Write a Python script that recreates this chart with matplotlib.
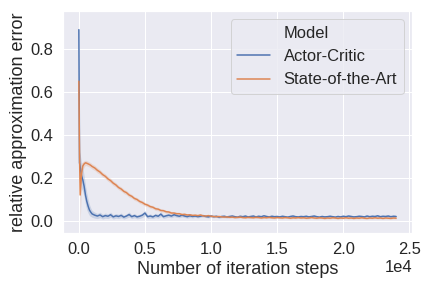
import matplotlib
matplotlib.use("Agg")
import matplotlib.pyplot as plt
import seaborn as sns
import numpy as np
from matplotlib.lines import Line2D

sns.set_theme(style="darkgrid", font_scale=1.5)
plt.rcParams['font.family'] = ['Liberation Sans', 'DejaVu Sans']

steps = [0, 50, 100, 150, 200, 300, 400, 500, 600, 700, 800, 900] + list(range(1000, 24001, 200))

ac_mean = [0.89, 0.27, 0.25, 0.23, 0.21, 0.19, 0.16, 0.12, 0.09, 0.068, 0.05, 0.04,
           0.032, 0.026, 0.022, 0.027, 0.019, 0.024, 0.021, 0.028, 0.018, 0.023,
           0.020, 0.025, 0.017, 0.022, 0.029, 0.019, 0.024, 0.018, 0.021, 0.026,
           0.036, 0.019, 0.022, 0.018, 0.025, 0.021, 0.031, 0.019, 0.023, 0.026,
           0.022, 0.028, 0.024, 0.021, 0.026, 0.022, 0.019, 0.023, 0.020, 0.022,
           0.019, 0.021, 0.024, 0.020, 0.018, 0.022, 0.019, 0.021, 0.017, 0.020,
           0.021, 0.018, 0.020, 0.022, 0.019, 0.017, 0.021, 0.019, 0.022, 0.018,
           0.020, 0.022, 0.018, 0.021, 0.019, 0.023, 0.020, 0.018, 0.021, 0.019,
           0.020, 0.018, 0.021, 0.019, 0.017, 0.020, 0.022, 0.019, 0.018, 0.020,
           0.019, 0.021, 0.018, 0.020, 0.022, 0.019, 0.017, 0.020, 0.018, 0.019,
           0.021, 0.019, 0.017, 0.020, 0.018, 0.021, 0.019, 0.022, 0.020, 0.018,
           0.019, 0.021, 0.020, 0.018, 0.022, 0.019, 0.021, 0.020, 0.023, 0.019,
           0.021, 0.020, 0.022, 0.019, 0.021, 0.020]

ac_ci = [0.04, 0.05, 0.06, 0.06, 0.06, 0.055, 0.05, 0.045, 0.04, 0.032, 0.026, 0.02,
         0.016, 0.014, 0.012, 0.013, 0.011, 0.012, 0.011, 0.012, 0.010, 0.011,
         0.010, 0.011, 0.009, 0.010, 0.012, 0.009, 0.010, 0.009, 0.010, 0.011,
         0.012, 0.009, 0.010, 0.008, 0.010, 0.009, 0.011, 0.008, 0.009, 0.009,
         0.008, 0.009, 0.008, 0.007, 0.008, 0.007, 0.007, 0.008, 0.007, 0.006,
         0.006, 0.005, 0.006, 0.005, 0.005, 0.006, 0.005, 0.005, 0.006, 0.005,
         0.005, 0.005, 0.004, 0.005, 0.005, 0.004, 0.005, 0.005, 0.004, 0.005,
         0.005, 0.004, 0.005, 0.005, 0.004, 0.005, 0.004, 0.005, 0.005, 0.004,
         0.005, 0.005, 0.004, 0.005, 0.004, 0.005, 0.005, 0.004, 0.005, 0.005,
         0.004, 0.005, 0.005, 0.004, 0.005, 0.004, 0.005, 0.005, 0.004, 0.005,
         0.005, 0.004, 0.005, 0.005, 0.004, 0.005, 0.004, 0.005, 0.005, 0.004,
         0.005, 0.005, 0.004, 0.005, 0.004, 0.005, 0.005, 0.004, 0.005, 0.005,
         0.004, 0.005, 0.005, 0.004, 0.005, 0.004]

sota_mean = [0.65, 0.30, 0.12, 0.17, 0.22, 0.255, 0.265, 0.27, 0.268, 0.265, 0.262, 0.258,
             0.253, 0.246, 0.235, 0.227, 0.215, 0.207, 0.195, 0.187, 0.175, 0.167,
             0.155, 0.148, 0.137, 0.131, 0.120, 0.114, 0.104, 0.099, 0.090, 0.085,
             0.077, 0.073, 0.066, 0.063, 0.056, 0.054, 0.048, 0.047, 0.042, 0.041,
             0.036, 0.036, 0.033, 0.033, 0.029, 0.030, 0.027, 0.028, 0.025, 0.026,
             0.024, 0.027, 0.023, 0.022, 0.024, 0.021, 0.020, 0.019, 0.020, 0.018,
             0.017, 0.018, 0.016, 0.017, 0.015, 0.016, 0.017, 0.015, 0.014, 0.016,
             0.015, 0.014, 0.016, 0.015, 0.013, 0.015, 0.014, 0.016, 0.014, 0.013,
             0.015, 0.014, 0.013, 0.015, 0.014, 0.012, 0.014, 0.013, 0.015, 0.013,
             0.014, 0.012, 0.013, 0.015, 0.013, 0.012, 0.014, 0.013, 0.011, 0.013,
             0.012, 0.014, 0.013, 0.011, 0.013, 0.012, 0.014, 0.012, 0.013, 0.011,
             0.013, 0.012, 0.014, 0.012, 0.011, 0.013, 0.012, 0.014, 0.012, 0.013,
             0.011, 0.013, 0.012, 0.011, 0.013, 0.012]

sota_ci = [0.03, 0.09, 0.13, 0.09, 0.05, 0.02, 0.015, 0.012, 0.012, 0.012, 0.012, 0.012,
           0.012, 0.012, 0.012, 0.011, 0.011, 0.011, 0.011, 0.011, 0.011, 0.010,
           0.010, 0.010, 0.010, 0.010, 0.010, 0.009, 0.009, 0.009, 0.009, 0.009,
           0.009, 0.008, 0.008, 0.008, 0.008, 0.008, 0.007, 0.007, 0.007, 0.007,
           0.007, 0.006, 0.006, 0.006, 0.006, 0.006, 0.006, 0.005, 0.005, 0.005,
           0.005, 0.005, 0.005, 0.005, 0.005, 0.005, 0.004, 0.004, 0.004, 0.004,
           0.004, 0.004, 0.004, 0.004, 0.004, 0.004, 0.004, 0.004, 0.004, 0.004,
           0.004, 0.004, 0.004, 0.004, 0.004, 0.004, 0.004, 0.004, 0.004, 0.004,
           0.004, 0.004, 0.004, 0.004, 0.004, 0.004, 0.004, 0.004, 0.004, 0.004,
           0.004, 0.004, 0.004, 0.004, 0.004, 0.004, 0.004, 0.004, 0.004, 0.004,
           0.004, 0.004, 0.004, 0.004, 0.004, 0.004, 0.004, 0.004, 0.004, 0.004,
           0.004, 0.004, 0.004, 0.004, 0.004, 0.004, 0.004, 0.004, 0.004, 0.004,
           0.004, 0.004, 0.004, 0.004, 0.004, 0.004]

models = ["Actor-Critic", "State-of-the-Art"]
colors = ["#4C72B0", "#DD8452"]

fig = plt.figure(figsize=(6, 4), dpi=72)
ax = fig.add_axes([63/432, 1 - 233/288, (412-63)/432, (233-11)/288])

x = np.array(steps)
for name, m, c, col in [(models[0], ac_mean, ac_ci, colors[0]),
                        (models[1], sota_mean, sota_ci, colors[1])]:
    m = np.array(m); c = np.array(c)
    ax.plot(x, m, color=col, lw=1.5, label=name)
    ax.fill_between(x, m - c, m + c, color=col, alpha=0.2, lw=0)

ax.set_xlabel("Number of iteration steps")
ax.set_ylabel("relative approximation error")
ax.ticklabel_format(axis='x', style='sci', scilimits=(0, 0))
ax.set_xticks([0, 5000, 10000, 15000, 20000, 25000])

handles = [Line2D([], [], color='none')] + [Line2D([], [], color=c, lw=1.5) for c in colors]
labels = ["Model"] + models
ax.legend(handles, labels, loc='upper right')

fig.savefig("out.png", dpi=72)
